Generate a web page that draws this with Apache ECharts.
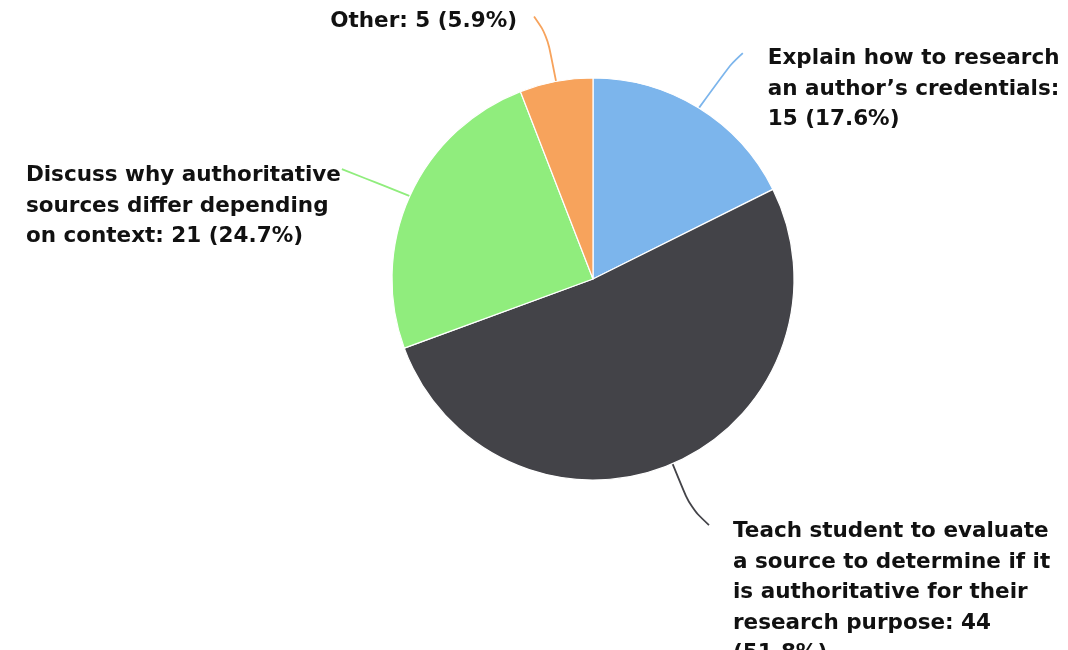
<!DOCTYPE html>
<html>
<head>
<meta charset="utf-8">
<title>Pie chart</title>
<script src="https://cdn.jsdelivr.net/npm/echarts@6/dist/echarts.min.js"></script>
<style>
  html, body { margin: 0; padding: 0; background: #ffffff; }
  #chart { width: 1068px; height: 650px; }
</style>
</head>
<body>
<div id="chart"></div>
<script>
// Categories (line breaks mark where the label text wraps)
const categories = [
  'Explain how to research\nan author\u2019s credentials',
  'Teach student to evaluate\na source to determine if it\nis authoritative for their\nresearch purpose',
  'Discuss why authoritative\nsources differ depending\non context',
  'Other'
];
// Number of responses per category
const counts = [15, 44, 21, 5];
// Separator placed before the count and before the percentage in each label
const beforeCount = ['\n', ' ', ' ', ' '];
const beforePercent = [' ', '\n', ' ', ' '];

const colors = ['#7cb5ec', '#434348', '#90ed7d', '#f7a35c'];

// Label placement relative to the point where the connector leaves the slice:
// mid / end are connector points, box is the label corner, side says which side of the box
const guides = [
  { mid: [32, -44], end: [44, -55], box: [69, -64.5], side: 'left', v: 'top' },
  { mid: [18, 44], end: [36.5, 61.5], box: [60.5, 53], side: 'left', v: 'top' },
  { mid: [-35, -14], end: [-68, -27], box: [-69, -35.5], side: 'right', v: 'top' },
  { mid: [-9, -46], end: [-22, -65], box: [-39, -60], side: 'right', v: 'middle' }
];

const chart = echarts.init(document.getElementById('chart'), null, { renderer: 'canvas' });

const seriesData = categories.map((name, i) => ({
  name: name,
  value: counts[i],
  itemStyle: { color: colors[i] },
  labelLine: { lineStyle: { color: colors[i] } }
}));

chart.setOption({
  animation: false,
  backgroundColor: '#ffffff',
  series: [{
    type: 'pie',
    center: [593, 279],
    radius: 201,
    startAngle: 90,
    clockwise: true,
    avoidLabelOverlap: false,
    data: seriesData,
    itemStyle: { borderColor: '#ffffff', borderWidth: 1.2 },
    label: {
      show: true,
      position: 'outside',
      fontFamily: 'DejaVu Sans',
      fontWeight: 'bold',
      fontSize: 21.5,
      lineHeight: 30.5,
      color: '#111111',
      align: 'left',
      formatter: function (p) {
        const i = p.dataIndex;
        return p.name + ':' + beforeCount[i] + p.value + beforePercent[i] + '(' + p.percent.toFixed(1) + '%)';
      }
    },
    labelLine: {
      show: true,
      smooth: 0.35,
      lineStyle: { width: 1.8 }
    },
    labelLayout: function (params) {
      const g = guides[params.dataIndex];
      const a = params.labelLinePoints[0];
      const w = params.labelRect.width;
      const x = g.side === 'left' ? a[0] + g.box[0] : a[0] + g.box[0] - w;
      return {
        x: x,
        y: a[1] + g.box[1],
        align: 'left',
        verticalAlign: g.v,
        labelLinePoints: [
          [a[0], a[1]],
          [a[0] + g.mid[0], a[1] + g.mid[1]],
          [a[0] + g.end[0], a[1] + g.end[1]]
        ]
      };
    }
  }]
});
</script>
</body>
</html>
